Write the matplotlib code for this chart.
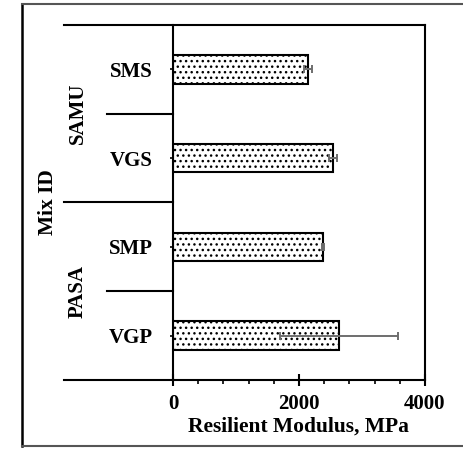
import matplotlib
matplotlib.use("Agg")
import matplotlib.pyplot as plt
from matplotlib.lines import Line2D
from matplotlib.ticker import MultipleLocator

mixes = ["VGP", "SMP", "VGS", "SMS"]          # bottom to top
modulus = [2635, 2381, 2540, 2143]            # MPa
errors = [936, 15, 65, 70]                     # MPa
groups = ["PASA", "SAMU"]
xticks = [0, 2000, 4000]

plt.rcParams['font.family'] = ['Liberation Serif', 'DejaVu Serif']
plt.rcParams['font.weight'] = 'bold'
plt.rcParams['hatch.linewidth'] = 1.0

W, H = 463, 449
fig = plt.figure(figsize=(W / 100, H / 100), dpi=100)
ax = fig.add_axes([173 / W, 1 - 380 / H, (425 - 173) / W, (380 - 25) / H])

ypos = list(range(len(mixes)))
ax.barh(ypos, modulus, height=0.32, color='white', edgecolor='black',
        linewidth=1.5, hatch='...', zorder=2)
ax.errorbar(modulus, ypos, xerr=errors, fmt='none', ecolor='#6e6e6e',
            elinewidth=1.4, capsize=3, capthick=1.4, zorder=3)

ax.set_xlim(0, 4000)
ax.set_ylim(-0.5, 3.5)
ax.set_xticks(xticks)
ax.xaxis.set_minor_locator(MultipleLocator(400))
ax.tick_params(axis='x', which='major', direction='inout', length=8, width=1.5,
               pad=6, labelsize=15)
ax.tick_params(axis='x', which='minor', direction='out', length=3, width=1.2)
ax.set_yticks(ypos)
ax.set_yticklabels(mixes)
ax.tick_params(axis='y', which='major', direction='out', length=2.5, width=1.2,
               pad=12, labelsize=15)

for s in ['left', 'right']:
    ax.spines[s].set_linewidth(1.5)
for s in ['top', 'bottom']:
    ax.spines[s].set_visible(False)

# extended top/bottom lines and group separators
x_far = (64 - 173) / 252
x_near = (107 - 173) / 252
tr = ax.get_yaxis_transform()
for yv in (3.5, -0.5):
    ax.add_line(Line2D([x_far, 1], [yv, yv], transform=tr, color='black',
                       linewidth=1.5, clip_on=False, zorder=4))
for yv, x0 in [(1.5, x_far), (0.5, x_near), (2.5, x_near)]:
    ax.add_line(Line2D([x0, 0], [yv, yv], transform=tr, color='black',
                       linewidth=1.5, clip_on=False, zorder=4))

x_grp = (78 - 173) / 252
for g, yc in zip(groups, [0.5, 2.5]):
    ax.text(x_grp, yc, g, transform=tr, rotation=90, ha='center', va='center',
            fontsize=15, fontweight='bold')
ax.text((48 - 173) / 252, 1.5, "Mix ID", transform=tr, rotation=90,
        ha='center', va='center', fontsize=15.5, fontweight='bold')

ax.set_xlabel("Resilient Modulus, MPa", fontsize=15.5, fontweight='bold', labelpad=2)

# outer frame
fig.add_artist(Line2D([22 / W, 22 / W], [1 - 4 / H, 1 - 446 / H], color='black', linewidth=1.8))
fig.add_artist(Line2D([22 / W, 1], [1 - 4 / H, 1 - 4 / H], color='#555555', linewidth=1.5))
fig.add_artist(Line2D([22 / W, 1], [1 - 446 / H, 1 - 446 / H], color='#555555', linewidth=1.5))

fig.savefig("out.png", dpi=100)
